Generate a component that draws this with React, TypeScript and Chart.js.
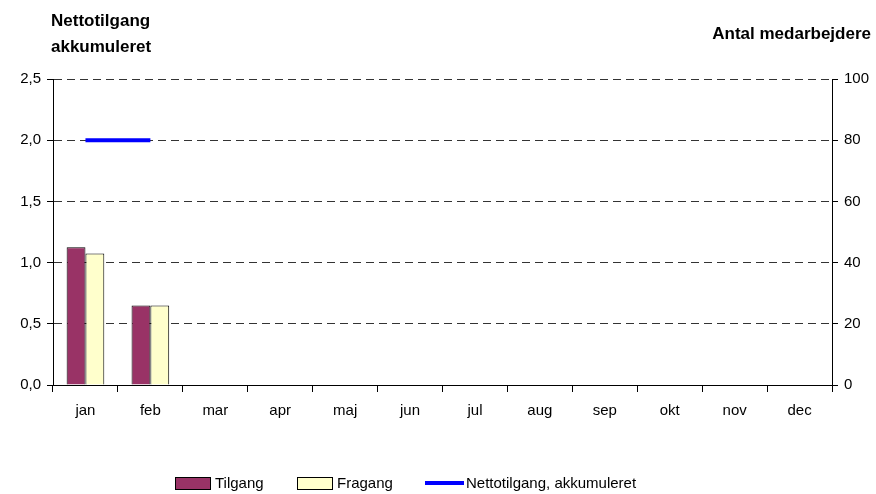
import React, { useEffect, useRef } from "react";
import { Chart, registerables } from "chart.js";

Chart.register(...registerables);

const months = ["jan", "feb", "mar", "apr", "maj", "jun", "jul", "aug", "sep", "okt", "nov", "dec"];
const tilgang = [45, 26, null, null, null, null, null, null, null, null, null, null];
const fragang = [43, 26, null, null, null, null, null, null, null, null, null, null];
const nettoAkk = [2, 2, null, null, null, null, null, null, null, null, null, null];
const leftTitle = ["Nettotilgang", "akkumuleret"];
const rightTitle = "Antal medarbejdere";
const legendLabels = ["Tilgang", "Fragang", "Nettotilgang, akkumuleret"];

const FONT = "'Liberation Sans', Arial, sans-serif";

const titlesPlugin = {
  id: "titlesAndLegend",
  afterDraw(chart: any) {
    const ctx = chart.ctx as CanvasRenderingContext2D;
    ctx.save();
    ctx.fillStyle = "#000";
    ctx.textBaseline = "alphabetic";
    ctx.font = `bold 17px ${FONT}`;
    ctx.textAlign = "left";
    ctx.fillText(leftTitle[0], 51, 26);
    ctx.fillText(leftTitle[1], 51, 52);
    ctx.textAlign = "right";
    ctx.fillText(rightTitle, 871, 39);

    // legend
    ctx.font = `15px ${FONT}`;
    ctx.textAlign = "left";
    ctx.textBaseline = "middle";
    const cy = 484;
    ctx.fillStyle = "#993366";
    ctx.fillRect(175.5, 477.5, 35, 12);
    ctx.strokeStyle = "#000";
    ctx.lineWidth = 1;
    ctx.strokeRect(175.5, 477.5, 35, 12);
    ctx.fillStyle = "#000";
    ctx.fillText(legendLabels[0], 215, cy);
    ctx.fillStyle = "#FFFFCC";
    ctx.fillRect(297.5, 477.5, 35, 12);
    ctx.strokeRect(297.5, 477.5, 35, 12);
    ctx.fillStyle = "#000";
    ctx.fillText(legendLabels[1], 337, cy);
    ctx.strokeStyle = "#0000FF";
    ctx.lineWidth = 4;
    ctx.beginPath();
    ctx.moveTo(425, 483);
    ctx.lineTo(464, 483);
    ctx.stroke();
    ctx.fillStyle = "#000";
    ctx.fillText(legendLabels[2], 466, cy);
    ctx.restore();
  },
};

export default function App() {
  const ref = useRef<HTMLCanvasElement | null>(null);
  useEffect(() => {
    document.body.style.margin = "0";
    const canvas = ref.current!;
    const chart = new Chart(canvas, {
      type: "bar",
      data: {
        labels: months,
        datasets: [
          {
            type: "line",
            label: legendLabels[2],
            data: nettoAkk,
            yAxisID: "y",
            borderColor: "#0000FF",
            backgroundColor: "#0000FF",
            borderWidth: 4,
            pointRadius: 0,
            spanGaps: false,
            order: 0,
          } as any,
          {
            label: legendLabels[0],
            data: tilgang,
            yAxisID: "y1",
            backgroundColor: "#993366",
            borderColor: "#000",
            borderWidth: 1,
            barPercentage: 1,
            categoryPercentage: 0.58,
            order: 1,
          },
          {
            label: legendLabels[1],
            data: fragang,
            yAxisID: "y1",
            backgroundColor: "#FFFFCC",
            borderColor: "#000",
            borderWidth: 1,
            barPercentage: 1,
            categoryPercentage: 0.58,
            order: 1,
          },
        ],
      },
      options: {
        responsive: false,
        animation: false,
        events: [],
        layout: { padding: { top: 79, left: 0, right: 0, bottom: 0 } },
        plugins: { legend: { display: false }, tooltip: { enabled: false } },
        scales: {
          x: {
            offset: true,
            grid: { offset: true, drawOnChartArea: false, tickLength: 7, color: "#000", tickColor: "#000" },
            border: { color: "#000", width: 1 },
            ticks: { color: "#000", font: { family: FONT, size: 15 }, padding: 10, maxRotation: 0 },
            afterFit(scale: any) {
              scale.height = 109;
            },
          },
          y: {
            position: "left",
            min: 0,
            max: 2.5,
            ticks: {
              stepSize: 0.5,
              color: "#000",
              font: { family: FONT, size: 15 },
              padding: 6,
              callback: (v: any) => Number(v).toFixed(1).replace(".", ","),
            },
            grid: {
              color: (c: any) => (c.tick && c.tick.value === 0 ? "rgba(0,0,0,0)" : "#333"),
              tickColor: "#000",
              tickLength: 6,
              lineWidth: 1,
              tickBorderDash: [],
            },
            border: { color: "#000", width: 1, dash: [8, 5] },
            afterFit(scale: any) {
              scale.width = 53;
            },
          },
          y1: {
            position: "right",
            min: 0,
            max: 100,
            ticks: { stepSize: 20, color: "#000", font: { family: FONT, size: 15 }, padding: 6 },
            grid: { drawOnChartArea: false, tickColor: "#000", tickLength: 6 },
            border: { color: "#000", width: 1 },
            afterFit(scale: any) {
              scale.width = 44;
            },
          },
        },
      },
      plugins: [titlesPlugin],
    });
    return () => chart.destroy();
  }, []);
  return <canvas ref={ref} width={876} height={494} style={{ display: "block" }} />;
}
